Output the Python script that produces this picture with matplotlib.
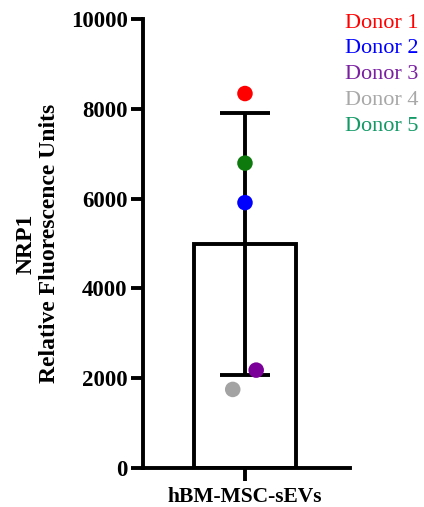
import matplotlib
matplotlib.use("Agg")
import matplotlib.pyplot as plt
import numpy as np

# chart data
category = "hBM-MSC-sEVs"
bar_mean = 4990
bar_sd = 2910
donors = ["Donor 1", "Donor 2", "Donor 3", "Donor 4", "Donor 5"]
donor_values = [8340, 5910, 2180, 1750, 6790]
donor_offsets = [0.0, 0.0, 0.11, -0.12, 0.0]
point_colors = ["#FF0000", "#0000FF", "#7B0099", "#A3A3A3", "#0E7A0E"]
text_colors = ["#FF0000", "#0000FF", "#7A1FA2", "#A8A8A8", "#129966"]
yticks = [0, 2000, 4000, 6000, 8000, 10000]

plt.rcParams['font.family'] = ['Liberation Serif', 'DejaVu Serif']

fig = plt.figure(figsize=(4.24, 5.07), dpi=100)
ax = fig.add_axes([143 / 424, 1 - 468 / 507, 207 / 424, 449 / 507])

lw = 2.8
ax.bar([0], [bar_mean], width=1.0, color="white", edgecolor="black",
       linewidth=lw, zorder=2)
ax.errorbar([0], [bar_mean], yerr=[bar_sd], fmt="none", ecolor="black",
            elinewidth=lw, capsize=18, capthick=lw, zorder=3)
ax.scatter(np.array(donor_offsets), donor_values, s=125, c=point_colors,
           edgecolors="none", zorder=4)

ax.set_xlim(-1.0, 1.03)
ax.set_ylim(0, 10000)
ax.set_yticks(yticks)
ax.set_yticklabels([str(t) for t in yticks], fontsize=16.5, fontweight="bold")
ax.set_xticks([0])
ax.set_xticklabels([category], fontsize=15.5, fontweight="bold")
ax.tick_params(axis="y", width=lw, length=9, pad=2)
ax.tick_params(axis="x", width=lw, length=9, pad=5)

for side in ["top", "right"]:
    ax.spines[side].set_visible(False)
for side in ["left", "bottom"]:
    ax.spines[side].set_linewidth(lw)

ax.set_ylabel("NRP1\nRelative Fluorescence Units", fontsize=17,
              fontweight="bold", labelpad=8, linespacing=1.15)

# donor colour key
for i, (name, col) in enumerate(zip(donors, text_colors)):
    fig.text(345 / 424, 1 - (23 + 25.8 * i) / 507, name, color=col,
             fontsize=16, ha="left", va="center")

fig.savefig("out.png", dpi=100)
